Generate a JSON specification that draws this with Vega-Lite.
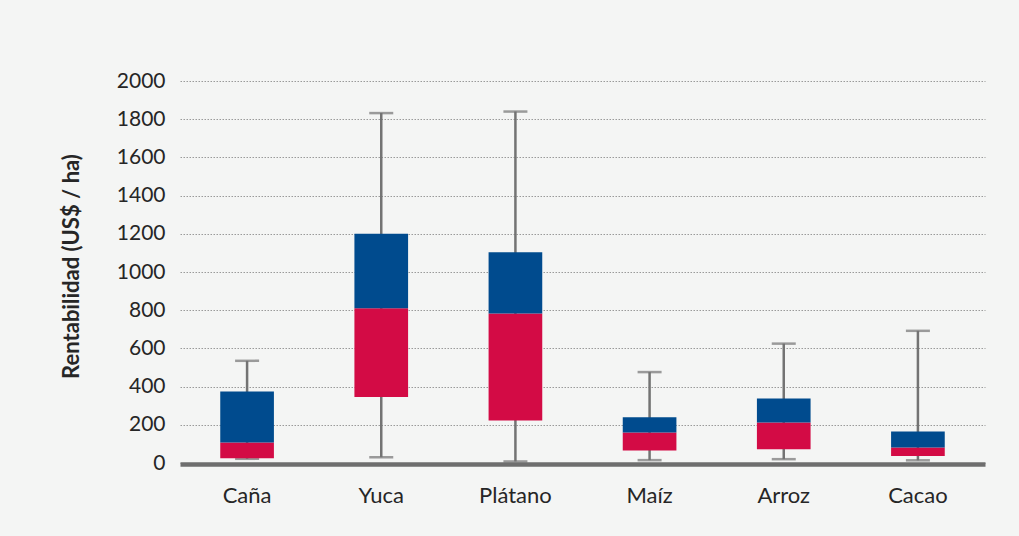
{
  "$schema": "https://vega.github.io/schema/vega-lite/v6.json",
  "autosize": {"type": "none"},
  "width": 805,
  "height": 382,
  "padding": {"left": 180, "top": 81, "right": 34, "bottom": 73},
  "background": "#f4f5f4",
  "config": {
    "view": {"stroke": null},
    "font": "Lato",
    "axis": {"labelFont": "Lato", "titleFont": "Lato", "labelColor": "#262626", "titleColor": "#262626"},
    "axisY": {
      "titleFontSize": 22,
      "titleFontWeight": "bold",
      "titlePadding": 33,
      "titleY": 185,
      "labelOverlap": false,
      "labelFontSize": 21,
      "labelPadding": 15,
      "ticks": false,
      "tickSize": 0,
      "domain": false,
      "grid": true,
      "gridColor": "#9a9a9a",
      "gridDash": [1.5, 1.5],
      "gridWidth": 1
    }
  },
  "data": {
    "values": [
      {"cultivo": "Caña", "min": 22, "q1": 25, "mediana": 107, "q3": 375, "max": 535},
      {"cultivo": "Yuca", "min": 30, "q1": 345, "mediana": 810, "q3": 1200, "max": 1832},
      {"cultivo": "Plátano", "min": 8, "q1": 222, "mediana": 783, "q3": 1103, "max": 1840},
      {"cultivo": "Maíz", "min": 15, "q1": 66, "mediana": 160, "q3": 239, "max": 476},
      {"cultivo": "Arroz", "min": 20, "q1": 72, "mediana": 212, "q3": 338, "max": 625},
      {"cultivo": "Cacao", "min": 14, "q1": 36, "mediana": 81, "q3": 165, "max": 692}
    ]
  },
  "encoding": {
    "x": {
      "field": "cultivo",
      "type": "nominal",
      "sort": null,
      "scale": {"paddingInner": 0, "paddingOuter": 0},
      "axis": {
        "title": null,
        "labelAngle": 0,
        "ticks": false,
        "tickSize": 0,
        "labelPadding": 21,
        "labelFontSize": 22,
        "domainColor": "#6e6e6e",
        "domainWidth": 4.5,
        "offset": 1,
        "grid": false
      }
    }
  },
  "layer": [
    {
      "mark": {"type": "rule", "color": "#737373", "strokeWidth": 2.5},
      "encoding": {
        "y": {
          "field": "min",
          "type": "quantitative",
          "scale": {"domain": [0, 2000], "nice": false},
          "axis": {"title": "Rentabilidad (US$ / ha)", "values": [0, 200, 400, 600, 800, 1000, 1200, 1400, 1600, 1800, 2000], "format": "d", "tickCount": 11}
        },
        "y2": {"field": "max"}
      }
    },
    {
      "mark": {"type": "tick", "color": "#737373", "thickness": 2.5, "size": 24},
      "encoding": {"y": {"field": "min", "type": "quantitative", "axis": {"title": "Rentabilidad (US$ / ha)", "values": [0, 200, 400, 600, 800, 1000, 1200, 1400, 1600, 1800, 2000], "format": "d", "tickCount": 11}}}
    },
    {
      "mark": {"type": "tick", "color": "#737373", "thickness": 2.5, "size": 24},
      "encoding": {"y": {"field": "max", "type": "quantitative", "axis": {"title": "Rentabilidad (US$ / ha)", "values": [0, 200, 400, 600, 800, 1000, 1200, 1400, 1600, 1800, 2000], "format": "d", "tickCount": 11}}}
    },
    {
      "mark": {"type": "bar", "color": "#d30b45", "width": {"band": 0.4}},
      "encoding": {"y": {"field": "q1", "type": "quantitative", "axis": {"title": "Rentabilidad (US$ / ha)", "values": [0, 200, 400, 600, 800, 1000, 1200, 1400, 1600, 1800, 2000], "format": "d", "tickCount": 11}}, "y2": {"field": "mediana"}}
    },
    {
      "mark": {"type": "bar", "color": "#004b8e", "width": {"band": 0.4}},
      "encoding": {"y": {"field": "mediana", "type": "quantitative", "axis": {"title": "Rentabilidad (US$ / ha)", "values": [0, 200, 400, 600, 800, 1000, 1200, 1400, 1600, 1800, 2000], "format": "d", "tickCount": 11}}, "y2": {"field": "q3"}}
    }
  ]
}
